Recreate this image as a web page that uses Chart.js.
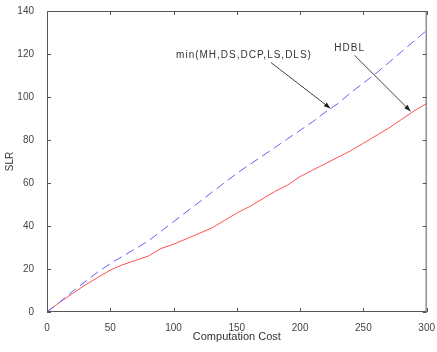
<!DOCTYPE html>
<html>
<head>
<meta charset="utf-8">
<script src="https://cdn.jsdelivr.net/npm/chart.js@4"></script>
<style>
  html, body { margin: 0; padding: 0; background: #fff; }
  #wrap { width: 437px; height: 352px; }
</style>
</head>
<body>
<div id="wrap"><canvas id="slrChart" width="437" height="352"></canvas></div>
<script>
// computation cost samples
const costs = [0, 10, 20, 30, 40, 50, 60, 70, 80, 90, 100, 110, 120, 130, 140, 150,
               160, 170, 180, 190, 200, 210, 220, 230, 240, 250, 260, 270, 280, 290, 300];
// min(MH,DS,DCP,LS,DLS) - blue dashed
const minSlr = [0, 4.5, 9.5, 14, 18.5, 22.5, 26, 29.5, 33, 37.5, 42, 46.5, 51, 55.5, 60, 64.5,
                68.5, 72.5, 76.5, 80.5, 84.5, 88.5, 93, 97, 102, 106.5, 111, 116, 121, 126, 131];
// HDBL - red solid
const hdblSlr = [0, 4.5, 8.5, 12.5, 16, 19.5, 22, 24, 26, 29.5, 31.5, 34, 36.5, 39, 42.5, 46,
                 49, 52.5, 56, 59, 63, 66, 69, 72, 75, 78.5, 82, 85.5, 89.5, 93.5, 97];
const xTicks = [0, 50, 100, 150, 200, 250, 300];
const yTicks = [0, 20, 40, 60, 80, 100, 120, 140];

const pts = ys => costs.map((c, i) => ({ x: c, y: ys[i] }));
const FONT = '"Liberation Sans", Arial, sans-serif';

// annotation labels + arrows, in data coords
const notes = [
  { text: 'min(MH,DS,DCP,LS,DLS)', tx: 102, ty: 119.4, from: [177, 116], to: [224, 94.7] },
  { text: 'HDBL', tx: 227, ty: 122.6, from: [243, 119.4], to: [287.3, 93.4] }
];

const boxPlugin = {
  id: 'boxPlugin',
  afterDraw(chart) {
    const { ctx, chartArea: a, scales } = chart;
    ctx.save();
    ctx.strokeStyle = '#555';
    ctx.lineWidth = 1;
    ctx.strokeRect(a.left + 0.5, a.top + 0.5, a.right - a.left - 1, a.bottom - a.top - 1);
    ctx.beginPath();
    xTicks.forEach(v => {
      const px = Math.round(scales.x.getPixelForValue(v)) + 0.5;
      ctx.moveTo(px, a.bottom); ctx.lineTo(px, a.bottom - 4);
      ctx.moveTo(px, a.top); ctx.lineTo(px, a.top + 4);
    });
    yTicks.forEach(v => {
      const py = Math.round(scales.y.getPixelForValue(v)) + 0.5;
      ctx.moveTo(a.left, py); ctx.lineTo(a.left + 4, py);
      ctx.moveTo(a.right, py); ctx.lineTo(a.right - 4, py);
    });
    ctx.stroke();

    // annotations
    ctx.font = '10px ' + FONT;
    ctx.letterSpacing = '1px';
    ctx.fillStyle = '#333';
    ctx.textBaseline = 'middle';
    ctx.strokeStyle = '#444';
    notes.forEach(n => {
      ctx.fillText(n.text, scales.x.getPixelForValue(n.tx), scales.y.getPixelForValue(n.ty));
      const x1 = scales.x.getPixelForValue(n.from[0]), y1 = scales.y.getPixelForValue(n.from[1]);
      const x2 = scales.x.getPixelForValue(n.to[0]), y2 = scales.y.getPixelForValue(n.to[1]);
      ctx.beginPath(); ctx.moveTo(x1, y1); ctx.lineTo(x2, y2); ctx.stroke();
      const ang = Math.atan2(y2 - y1, x2 - x1);
      ctx.beginPath();
      ctx.moveTo(x2, y2);
      ctx.lineTo(x2 - 7 * Math.cos(ang - 0.35), y2 - 7 * Math.sin(ang - 0.35));
      ctx.lineTo(x2 - 7 * Math.cos(ang + 0.35), y2 - 7 * Math.sin(ang + 0.35));
      ctx.closePath();
      ctx.fillStyle = '#222';
      ctx.fill();
      ctx.fillStyle = '#333';
    });
    ctx.restore();
  }
};

new Chart(document.getElementById('slrChart'), {
  type: 'line',
  data: {
    datasets: [
      {
        label: 'min(MH,DS,DCP,LS,DLS)',
        data: pts(minSlr),
        borderColor: '#6060ff',
        borderWidth: 1,
        borderDash: [9, 5],
        pointRadius: 0,
        tension: 0
      },
      {
        label: 'HDBL',
        data: pts(hdblSlr),
        borderColor: '#ff5050',
        borderWidth: 1,
        pointRadius: 0,
        tension: 0
      }
    ]
  },
  options: {
    responsive: false,
    animation: false,
    layout: { padding: { top: 11, right: 9, left: 0, bottom: 0 } },
    plugins: { legend: { display: false }, tooltip: { enabled: false } },
    scales: {
      x: {
        type: 'linear',
        min: 0, max: 300,
        afterBuildTicks: s => { s.ticks = xTicks.map(v => ({ value: v })); },
        afterFit: s => { s.height = 40; },
        grid: { display: false },
        border: { display: false },
        ticks: { color: '#444', padding: 2, maxRotation: 0, font: { size: 10, family: FONT } },
        title: { display: true, text: 'Computation Cost', color: '#333', padding: { top: 2, bottom: 8 }, font: { size: 11, family: FONT } }
      },
      y: {
        min: 0, max: 140,
        afterBuildTicks: s => { s.ticks = yTicks.map(v => ({ value: v })); },
        afterFit: s => { s.width = 47; },
        grid: { display: false },
        border: { display: false },
        ticks: { color: '#444', padding: 5, font: { size: 10, family: FONT } },
        title: { display: true, text: 'SLR', color: '#333', padding: { top: 4, bottom: 0 }, font: { size: 10, family: FONT } }
      }
    }
  },
  plugins: [boxPlugin]
});
</script>
</body>
</html>
